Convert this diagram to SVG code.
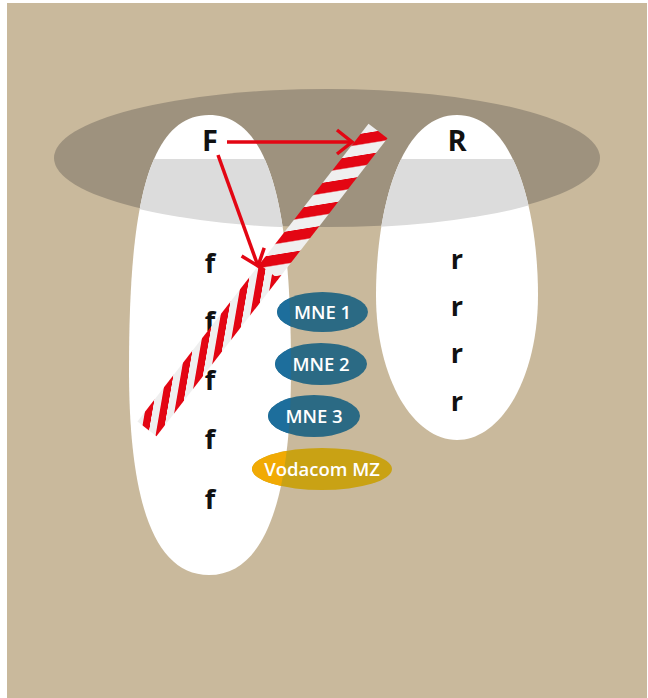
<svg xmlns="http://www.w3.org/2000/svg" xmlns:xlink="http://www.w3.org/1999/xlink" width="648" height="698" viewBox="0 0 648 698">
  <style>
    .big { font-family: "Open Sans", "Liberation Sans", Arial, sans-serif; font-weight: 700; font-size: 29px; fill: #111111; text-anchor: middle; }
    .small { font-family: "Open Sans", "Liberation Sans", Arial, sans-serif; font-weight: 700; font-size: 27px; fill: #111111; text-anchor: middle; }
    .lbl { font-family: "Open Sans", "Liberation Sans", Arial, sans-serif; font-weight: 600; font-size: 18.5px; fill: #ffffff; text-anchor: middle; }
    .mne-out { fill: #2b6a84; }
    .mne-in { fill: #1d6e9c; }
    .voda-out { fill: #c9a214; }
    .voda-in { fill: #f1aa04; }
    .arrow { stroke: #e30613; stroke-width: 3.5; fill: none; marker-end: url(#head); }
  </style>
  <defs>
    <path id="shapeF" d="M209,115 C275,115 291,225 291,370 C291,490 268,575 209,575 C150,575 129,490 129,370 C129,225 143,115 209,115 Z"/>
    <path id="shapeR" d="M457,115 C516,115 538,215 538,295 C538,380 500,440 457,440 C414,440 376,380 376,295 C376,215 398,115 457,115 Z"/>
    <clipPath id="darkLower">
      <path d="M54,159 A273,69 0 0 0 600,159 Z"/>
    </clipPath>
    <clipPath id="clipF">
      <use xlink:href="#shapeF"/>
    </clipPath>
    <pattern id="stripeA" patternUnits="userSpaceOnUse" width="31" height="60" patternTransform="skewX(47)">
      <rect x="0" y="0" width="31" height="60" fill="#efefef"/>
      <rect x="0" y="0" width="15.5" height="60" fill="#e30613"/>
    </pattern>
    <pattern id="stripeB" patternUnits="userSpaceOnUse" width="31" height="60" patternTransform="skewX(-62)">
      <rect x="0" y="0" width="31" height="60" fill="#efefef"/>
      <rect x="0" y="0" width="15.5" height="60" fill="#e30613"/>
    </pattern>
    <marker id="head" markerUnits="userSpaceOnUse" markerWidth="40" markerHeight="40" refX="0" refY="0" orient="auto" overflow="visible">
      <path d="M-15,-12 L0,0 L-15,12" stroke="#e30613" stroke-width="3.5" fill="none"/>
    </marker>
  </defs>

  <rect id="background" x="7" y="3" width="640" height="695" fill="#c9b99c"/>

  <g id="overlap-zone">
    <ellipse cx="327" cy="158" rx="273" ry="69" fill="#9e927e"/>
  </g>

  <g id="set-F">
    <use xlink:href="#shapeF" fill="#ffffff"/>
  </g>
  <g id="set-R">
    <use xlink:href="#shapeR" fill="#ffffff"/>
  </g>

  <g id="overlap-band" clip-path="url(#darkLower)">
    <use xlink:href="#shapeF" fill="#dcdcdc"/>
    <use xlink:href="#shapeR" fill="#dcdcdc"/>
  </g>

  <g id="label-F"><text class="big" x="210" y="151">F</text></g>
  <g id="label-R"><text class="big" x="457" y="151">R</text></g>

  <g id="f-items">
    <text class="small" x="210" y="273">f</text>
    <text class="small" x="210" y="331">f</text>
    <text class="small" x="210" y="390">f</text>
    <text class="small" x="210" y="449">f</text>
    <text class="small" x="210" y="509">f</text>
  </g>
  <g id="r-items">
    <text class="small" x="457" y="269">r</text>
    <text class="small" x="457" y="316">r</text>
    <text class="small" x="457" y="363">r</text>
    <text class="small" x="457" y="411">r</text>
  </g>

  <g id="barrier" transform="translate(378,131) rotate(127.8)">
    <rect x="0" y="-12" width="179" height="24" fill="url(#stripeA)"/>
    <rect x="178" y="-12" width="199" height="24" fill="url(#stripeB)"/>
  </g>

  <g id="mne1">
    <ellipse class="mne-out" cx="322.5" cy="312" rx="45.5" ry="20"/>
    <ellipse class="mne-in" cx="322.5" cy="312" rx="45.5" ry="20" clip-path="url(#clipF)"/>
    <text class="lbl" x="322.5" y="318.5">MNE 1</text>
  </g>
  <g id="mne2">
    <ellipse class="mne-out" cx="321" cy="364" rx="46" ry="21"/>
    <ellipse class="mne-in" cx="321" cy="364" rx="46" ry="21" clip-path="url(#clipF)"/>
    <text class="lbl" x="321" y="370.5">MNE 2</text>
  </g>
  <g id="mne3">
    <ellipse class="mne-out" cx="314" cy="416" rx="46" ry="21"/>
    <ellipse class="mne-in" cx="314" cy="416" rx="46" ry="21" clip-path="url(#clipF)"/>
    <text class="lbl" x="314" y="422.5">MNE 3</text>
  </g>
  <g id="vodacom">
    <ellipse class="voda-out" cx="322" cy="469" rx="70" ry="21"/>
    <ellipse class="voda-in" cx="322" cy="469" rx="70" ry="21" clip-path="url(#clipF)"/>
    <text class="lbl" x="322" y="475.5">Vodacom MZ</text>
  </g>

  <g id="connectors">
    <path class="arrow" d="M227,142 L352,142"/>
    <path class="arrow" d="M218,155 L258,266"/>
  </g>
</svg>
